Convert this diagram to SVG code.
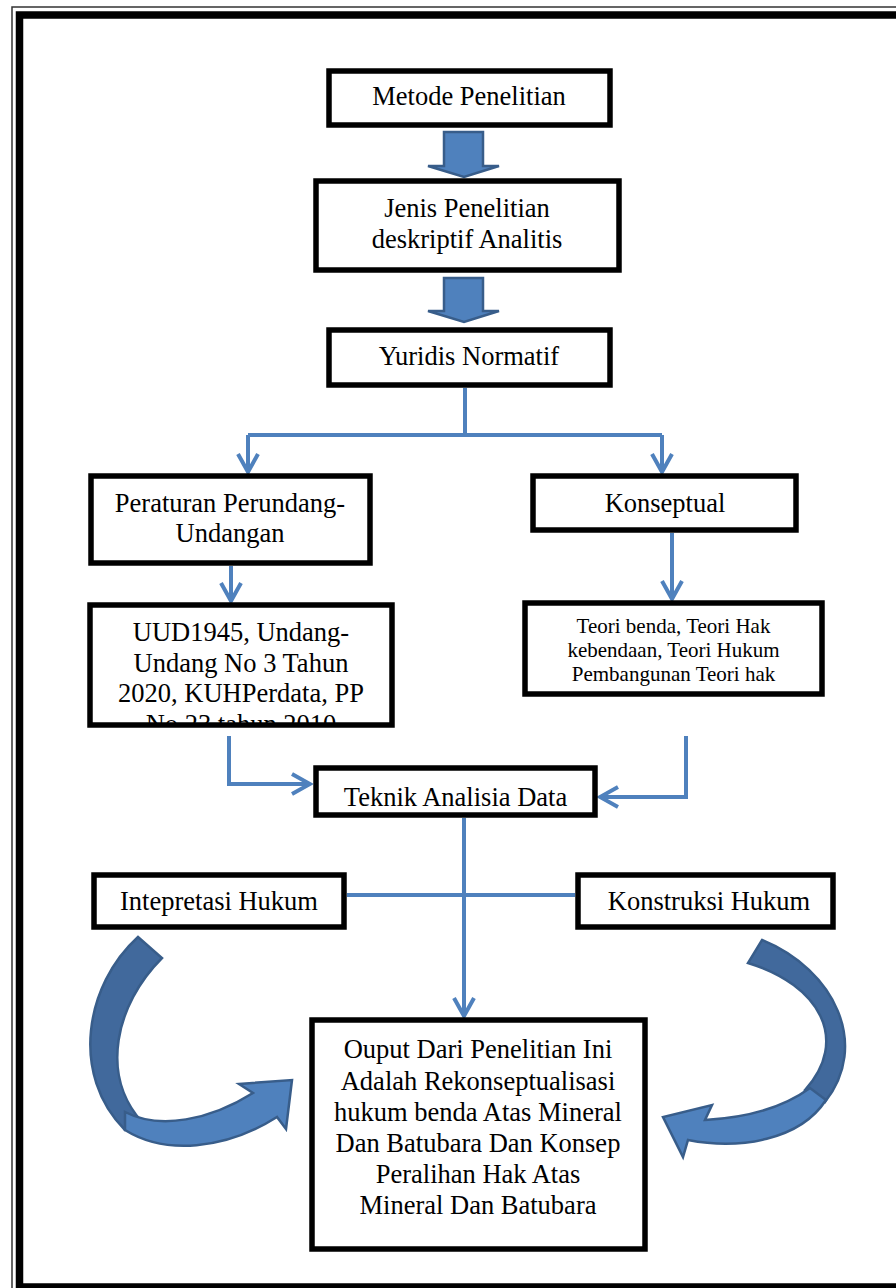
<svg xmlns="http://www.w3.org/2000/svg" width="896" height="1288" viewBox="0 0 896 1288">
<style>
.box{fill:#fff;stroke:#000;stroke-width:5.5}
.t{font-family:"Liberation Serif","Times New Roman",serif;font-size:26.5px;fill:#000;text-anchor:middle}
.ts{font-size:21px}
.ln{fill:none;stroke:#4F81BD;stroke-width:4}
.blk{fill:#4F81BD;stroke:#385D8A;stroke-width:2.5;stroke-linejoin:miter}
.dk{fill:#41699C;stroke:#385D8A;stroke-width:2.5}
</style>
<defs>
<marker id="ah" viewBox="0 0 24 24" refX="21" refY="12" markerWidth="24" markerHeight="24" markerUnits="userSpaceOnUse" orient="auto">
<path d="M3,2 L21,12 L3,22" fill="none" stroke="#4F81BD" stroke-width="4"/>
</marker>
<clipPath id="uudclip"><rect x="90" y="605" width="302" height="119"/></clipPath>
</defs>
<rect width="896" height="1288" fill="#fff"/>
<g id="page-border">
<rect x="12" y="7" width="900" height="1300" fill="none" stroke="#333" stroke-width="1.5"/>
<rect x="19.5" y="15" width="900" height="1272" fill="none" stroke="#000" stroke-width="7.5"/>
</g>
<g id="connectors">
<path class="blk" d="M444,132 H483 V166 H499 L464,177 L428,166 H444 Z"/>
<path class="blk" d="M444,278 H483 V311 H499 L464,322 L428,311 H444 Z"/>
<path class="ln" d="M465,388 V435"/>
<path class="ln" d="M248,435 H662"/>
<path class="ln" d="M248,435 V472" marker-end="url(#ah)"/>
<path class="ln" d="M662,435 V472" marker-end="url(#ah)"/>
<path class="ln" d="M231,566 V601" marker-end="url(#ah)"/>
<path class="ln" d="M672,533 V599" marker-end="url(#ah)"/>
<path class="ln" d="M229,736 V784 H310" marker-end="url(#ah)"/>
<path class="ln" d="M686,736 V797 H600" marker-end="url(#ah)"/>
<path class="ln" d="M464,818 V1016" marker-end="url(#ah)"/>
<path class="ln" d="M347,895 H575"/>
<path class="dk" d="M138,937 L162,958 C115,1005 100,1075 142,1122 L125,1130 C70,1075 85,985 138,937 Z"/>
<path class="blk" d="M125,1112 C160,1130 210,1120 253,1093 L239,1084 L292,1080 L286,1129 L277,1117 C225,1150 165,1155 125,1130 Z"/>
<path class="dk" d="M762,940 C835,970 870,1045 825,1102 L805,1090 C850,1040 820,985 748,963 Z"/>
<path class="blk" d="M810,1088 C780,1110 740,1118 705,1120 L712,1105 L663,1117 L683,1157 L688,1140 C740,1150 800,1140 826,1100 Z"/>
</g>
<g id="metode">
<rect class="box" x="329" y="71" width="281" height="54"/>
<text class="t" x="469" y="105">Metode Penelitian</text>
</g>
<g id="jenis">
<rect class="box" x="316" y="181" width="303" height="89"/>
<text class="t" x="467" y="217">Jenis Penelitian</text>
<text class="t" x="467" y="248">deskriptif Analitis</text>
</g>
<g id="yuridis">
<rect class="box" x="329" y="330" width="281" height="55"/>
<text class="t" x="469" y="365">Yuridis Normatif</text>
</g>
<g id="peraturan">
<rect class="box" x="91" y="476" width="279" height="87"/>
<text class="t" x="230" y="512">Peraturan Perundang-</text>
<text class="t" x="230" y="542">Undangan</text>
</g>
<g id="konseptual">
<rect class="box" x="533" y="476" width="263" height="54"/>
<text class="t" x="665" y="512">Konseptual</text>
</g>
<g id="uud">
<rect class="box" x="90" y="605" width="302" height="120"/>
<g clip-path="url(#uudclip)">
<text class="t" x="241" y="641">UUD1945, Undang-</text>
<text class="t" x="241" y="672">Undang No 3 Tahun</text>
<text class="t" x="241" y="702">2020, KUHPerdata, PP</text>
<text class="t" x="241" y="733">No 23 tahun 2010</text>
</g>
</g>
<g id="teori">
<rect class="box" x="525" y="603" width="297" height="91"/>
<text class="t ts" x="673.5" y="633">Teori benda, Teori Hak</text>
<text class="t ts" x="673.5" y="657">kebendaan, Teori Hukum</text>
<text class="t ts" x="673.5" y="681">Pembangunan Teori hak</text>
</g>
<g id="teknik">
<rect class="box" x="316" y="768" width="279" height="47"/>
<text class="t" x="455.5" y="806">Teknik Analisia Data</text>
</g>
<g id="intepretasi">
<rect class="box" x="94" y="875" width="250" height="52"/>
<text class="t" x="219" y="910">Intepretasi Hukum</text>
</g>
<g id="konstruksi">
<rect class="box" x="578" y="875" width="255" height="52"/>
<text class="t" x="709" y="910">Konstruksi Hukum</text>
</g>
<g id="output">
<rect class="box" x="312" y="1020" width="333" height="229"/>
<text class="t" x="478" y="1058">Ouput Dari Penelitian Ini</text>
<text class="t" x="478" y="1090">Adalah Rekonseptualisasi</text>
<text class="t" x="478" y="1121">hukum benda Atas Mineral</text>
<text class="t" x="478" y="1152">Dan Batubara Dan Konsep</text>
<text class="t" x="478" y="1183">Peralihan Hak Atas</text>
<text class="t" x="478" y="1214">Mineral Dan Batubara</text>
</g>
</svg>
